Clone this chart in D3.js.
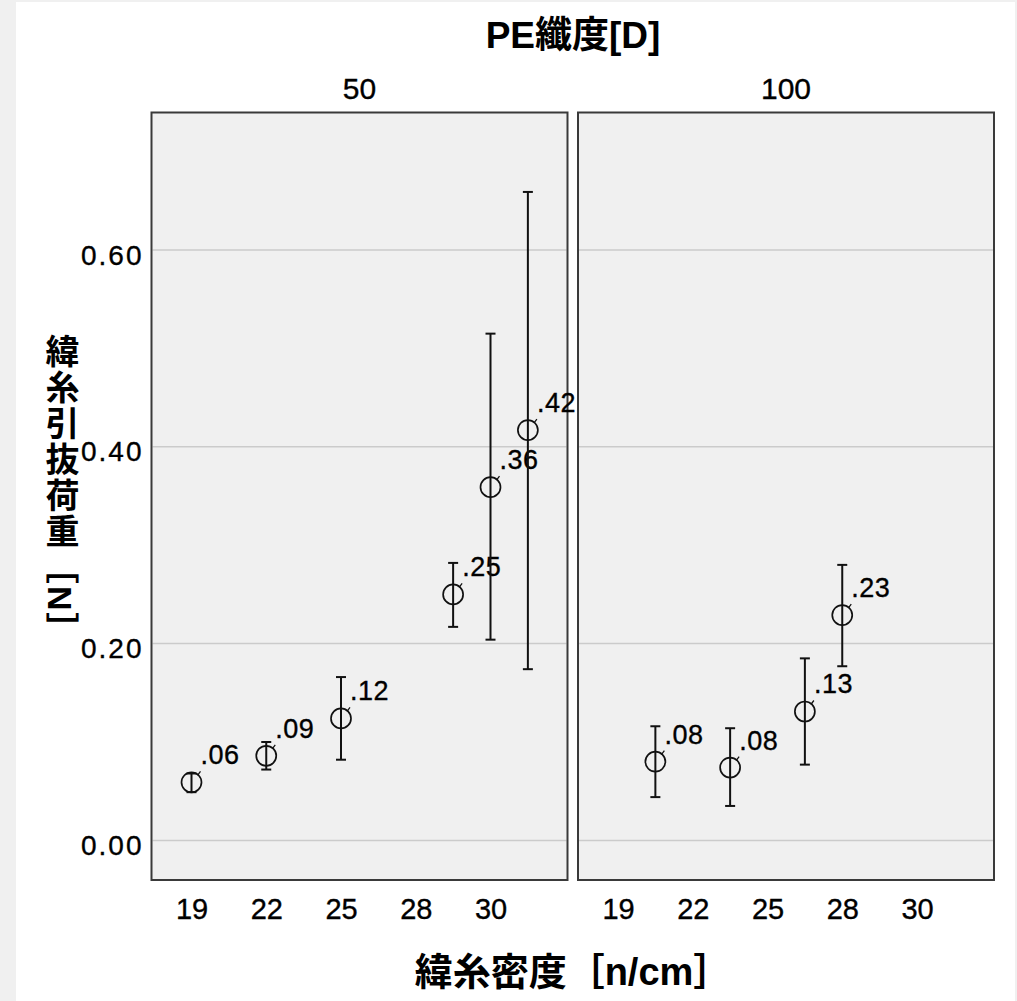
<!DOCTYPE html>
<html>
<head>
<meta charset="utf-8">
<script src="https://cdn.jsdelivr.net/npm/d3@7"></script>
<style>
  body { margin: 0; background: #f0f0f0; }
  svg { display: block; }
  text { font-family: "Liberation Sans", Arial, "Noto Sans CJK JP", sans-serif; fill: #000; }
  .num { stroke: #000; stroke-width: 0.35px; }
  .cjk { font-family: "Liberation Sans", "Noto Sans CJK JP", sans-serif; font-weight: bold; }
</style>
</head>
<body>
<div id="chart"></div>
<script>
// facets (PE 纖度) and categories
const panels = ['50', '100'];
const xTickLabels = ['19', '22', '25', '28', '30'];
const yTicks = [0, 0.2, 0.4, 0.6];

// PE 50D
const slot50 = [0, 1, 2, 3.5, 4, 4.5];
const mean50 = [0.059, 0.086, 0.124, 0.250, 0.359, 0.417];
const lo50 = [0.049, 0.072, 0.082, 0.217, 0.204, 0.174];
const hi50 = [0.068, 0.100, 0.166, 0.282, 0.515, 0.659];
const label50 = ['.06', '.09', '.12', '.25', '.36', '.42'];

// PE 100D
const slot100 = [0.5, 1.5, 2.5, 3];
const mean100 = [0.080, 0.074, 0.131, 0.229];
const lo100 = [0.044, 0.035, 0.077, 0.177];
const hi100 = [0.116, 0.114, 0.185, 0.280];
const label100 = ['.08', '.08', '.13', '.23'];

const width = 1017;
const height = 1001;
const panelTop = 112.5, panelBottom = 880;
const panelLeft = [151.5, 578];
const panelW = 416;

const series = [
    { slot: slot50, mean: mean50, lo: lo50, hi: hi50, label: label50 },
    { slot: slot100, mean: mean100, lo: lo100, hi: hi100, label: label100 },
];

const svg = d3.select('#chart')
    .append('svg')
    .attr('width', width)
    .attr('height', height);

// white page with grey frame
svg.append('rect')
    .attr('x', 16).attr('y', 2)
    .attr('width', width - 18).attr('height', height - 2)
    .attr('fill', '#fff');

const y = d3.scaleLinear()
    .domain([0, 0.6])
    .range([840.4, 250]);

const r = 10;

panels.forEach((name, p) => {
    const left = panelLeft[p];
    const x = d3.scaleLinear()
        .domain([0, 4])
        .range([left + 40, left + 339]);

    const g = svg.append('g');

    g.append('rect')
        .attr('x', left).attr('y', panelTop)
        .attr('width', panelW).attr('height', panelBottom - panelTop)
        .attr('fill', '#f0f0f0');

    // gridlines
    g.selectAll('.grid')
        .data(yTicks)
        .join('line')
        .attr('x1', left + 1).attr('x2', left + panelW - 1)
        .attr('y1', d => y(d)).attr('y2', d => y(d))
        .attr('stroke', '#cbcbcb')
        .attr('stroke-width', 1.5);

    g.append('rect')
        .attr('x', left).attr('y', panelTop)
        .attr('width', panelW).attr('height', panelBottom - panelTop)
        .attr('fill', 'none')
        .attr('stroke', '#3a3a3a')
        .attr('stroke-width', 2);

    // facet header
    svg.append('text')
        .attr('class', 'num')
        .attr('x', left + panelW / 2)
        .attr('y', 99)
        .attr('text-anchor', 'middle')
        .style('font-size', '30px')
        .text(name);

    // x axis
    const xAxis = svg.append('g')
        .attr('transform', `translate(0,${panelBottom})`)
        .call(d3.axisBottom(x).tickValues(d3.range(xTickLabels.length)).tickFormat(i => xTickLabels[i]).tickSize(0).tickPadding(0));
    xAxis.select('.domain').remove();
    xAxis.selectAll('text')
        .attr('class', 'num')
        .attr('dy', null)
        .attr('y', 39)
        .style('font-size', '29px')
        .style('font-family', '"Liberation Sans", Arial, sans-serif');

    const s = series[p];
    const pts = s.mean.map((m, i) => ({ slot: s.slot[i], mean: m, lo: s.lo[i], hi: s.hi[i], label: s.label[i] }));

    const pg = g.selectAll('.pt')
        .data(pts)
        .join('g')
        .attr('class', 'pt');

    // error bars
    pg.append('line')
        .attr('x1', d => x(d.slot)).attr('x2', d => x(d.slot))
        .attr('y1', d => y(d.lo)).attr('y2', d => y(d.hi))
        .attr('stroke', '#111').attr('stroke-width', 2);
    pg.append('line')
        .attr('x1', d => x(d.slot) - 5).attr('x2', d => x(d.slot) + 5)
        .attr('y1', d => y(d.hi)).attr('y2', d => y(d.hi))
        .attr('stroke', '#111').attr('stroke-width', 2);
    pg.append('line')
        .attr('x1', d => x(d.slot) - 5).attr('x2', d => x(d.slot) + 5)
        .attr('y1', d => y(d.lo)).attr('y2', d => y(d.lo))
        .attr('stroke', '#111').attr('stroke-width', 2);

    // mean markers
    pg.append('circle')
        .attr('cx', d => x(d.slot)).attr('cy', d => y(d.mean))
        .attr('r', r)
        .attr('fill', 'none')
        .attr('stroke', '#111').attr('stroke-width', 1.7);

    // little leader tick to label
    pg.append('line')
        .attr('x1', d => x(d.slot) + 6).attr('y1', d => y(d.mean) - 7)
        .attr('x2', d => x(d.slot) + 9).attr('y2', d => y(d.mean) - 11)
        .attr('stroke', '#111').attr('stroke-width', 1.3);

    pg.append('text')
        .attr('class', 'num')
        .attr('x', d => x(d.slot) + 9)
        .attr('y', d => y(d.mean) - 18)
        .style('font-size', '27px')
        .style('letter-spacing', '0.5px')
        .text(d => d.label);
});

// y axis (left panel only)
const yAxis = svg.append('g')
    .attr('transform', `translate(${panelLeft[0]},0)`)
    .call(d3.axisLeft(y).tickValues(yTicks).tickFormat(d3.format('.2f')).tickSize(0).tickPadding(8));
yAxis.select('.domain').remove();
yAxis.selectAll('text')
    .attr('class', 'num')
    .attr('dy', null)
    .attr('y', 14)
    .style('font-size', '28px')
    .style('letter-spacing', '2px')
    .style('font-family', '"Liberation Sans", Arial, sans-serif');

// titles
svg.append('text')
    .attr('class', 'cjk')
    .attr('x', 573)
    .attr('y', 48)
    .attr('text-anchor', 'middle')
    .style('font-size', '37px')
    .text('PE纖度[D]');

svg.append('text')
    .attr('class', 'cjk')
    .attr('x', 573)
    .attr('y', 985)
    .attr('text-anchor', 'middle')
    .style('font-size', '38px')
    .text('緯糸密度［n/cm］');

svg.append('text')
    .attr('class', 'cjk')
    .attr('x', 60)
    .attr('y', 334)
    .attr('text-anchor', 'start')
    .style('writing-mode', 'vertical-rl')
    .style('font-size', '34px')
    .style('letter-spacing', '2px')
    .text('緯糸引抜荷重［N］');
</script>
</body>
</html>
